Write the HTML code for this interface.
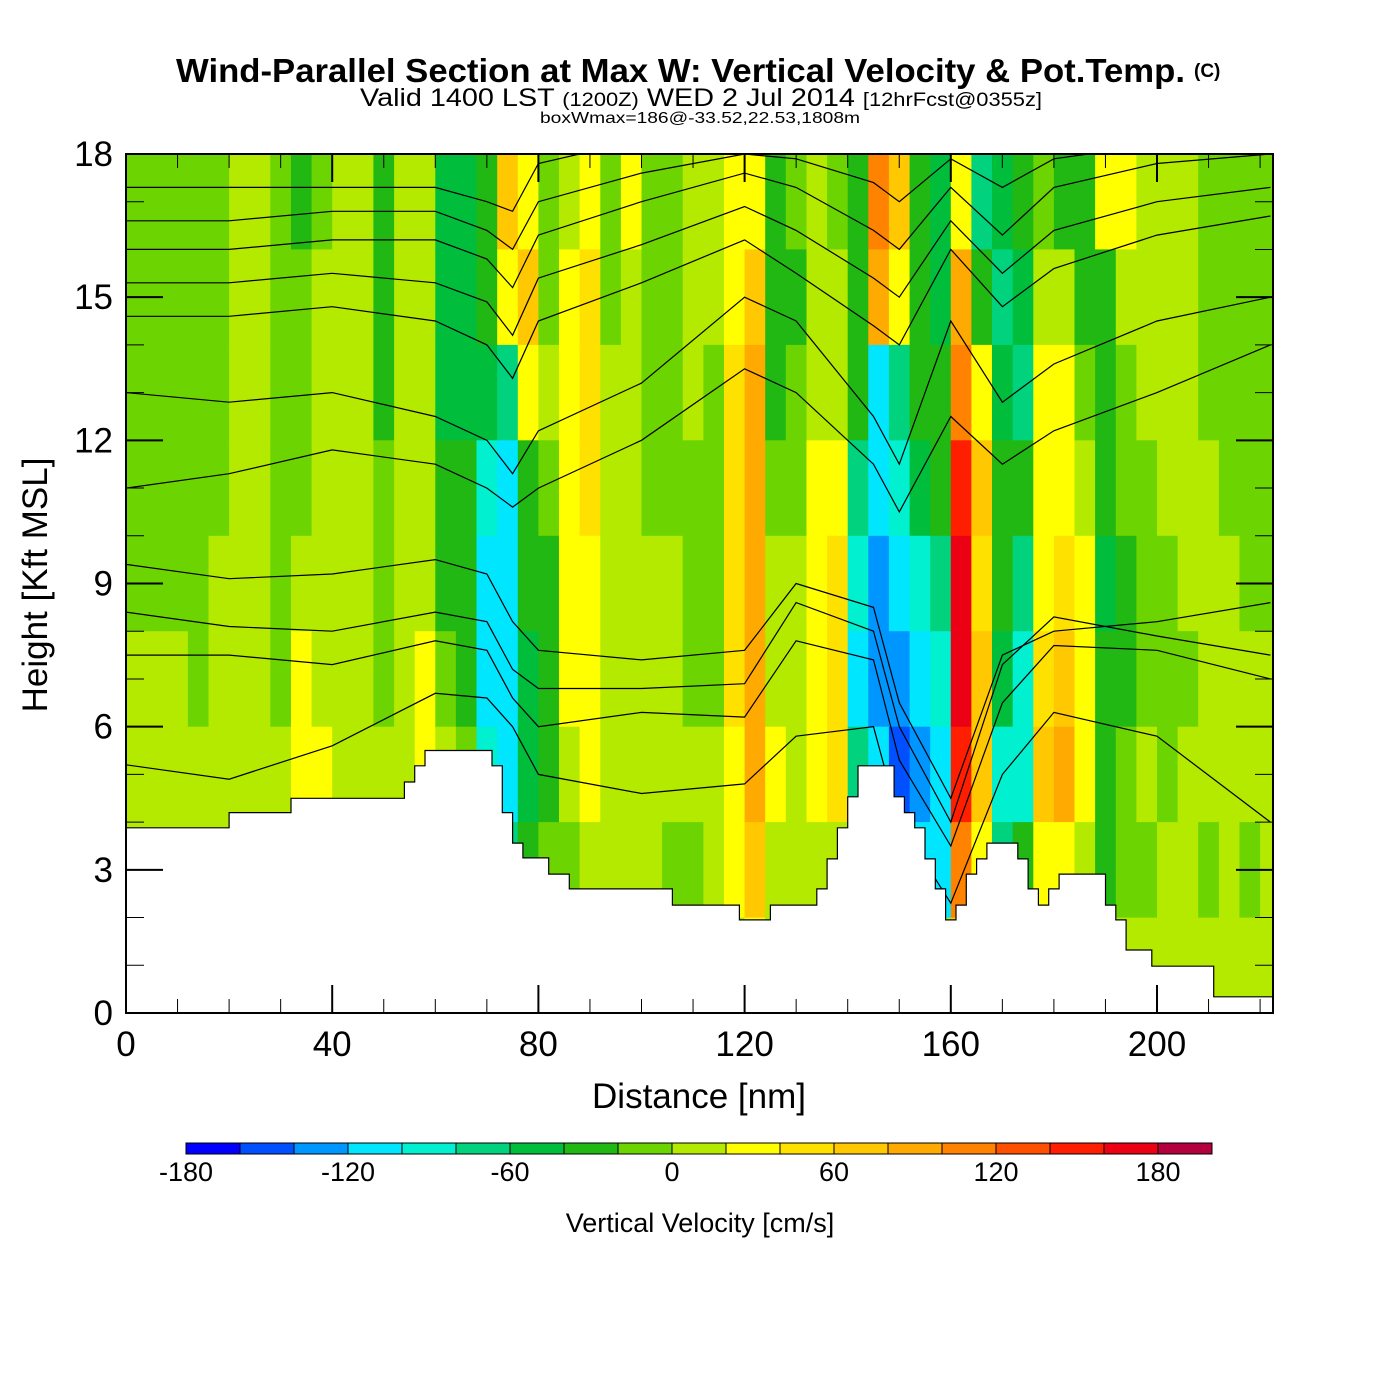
<!DOCTYPE html>
<html><head><meta charset="utf-8">
<style>
html,body{margin:0;padding:0;background:#fff;}
svg{display:block;font-family:"Liberation Sans",sans-serif;}
</style></head>
<body>
<svg id="chart" width="1400" height="1400" viewBox="0 0 1400 1400" xmlns="http://www.w3.org/2000/svg">
  <g>
    <text x="176" y="82" font-size="33" font-weight="bold" textLength="1009" lengthAdjust="spacingAndGlyphs">Wind-Parallel Section at Max W: Vertical Velocity &amp; Pot.Temp.</text>
    <text x="1194" y="77" font-size="19" font-weight="bold">(C)</text>
    <text x="360" y="106" font-size="25" textLength="682" lengthAdjust="spacingAndGlyphs">Valid 1400 LST <tspan font-size="19">(1200Z)</tspan> WED 2 Jul 2014 <tspan font-size="19">[12hrFcst@0355z]</tspan></text>
    <text x="540" y="123" font-size="16" textLength="320" lengthAdjust="spacingAndGlyphs">boxWmax=186@-33.52,22.53,1808m</text>
  </g>
  <defs><clipPath id="plotclip"><rect x="126" y="154" width="1147" height="859"/></clipPath></defs>
  <g id="cells" clip-path="url(#plotclip)"></g>
  <g id="contours" clip-path="url(#plotclip)"></g>
  <g id="terrain" clip-path="url(#plotclip)"></g>
  <g id="axes"></g>
  <g id="colorbar"></g>
  <text x="699" y="1108" font-size="35" text-anchor="middle">Distance [nm]</text>
  <text transform="translate(47,585) rotate(-90)" font-size="35" text-anchor="middle">Height [Kft MSL]</text>
  <text x="700" y="1232" font-size="27" text-anchor="middle">Vertical Velocity [cm/s]</text>
</svg>
<script>
// ---- data ----
const colWidthNm = 4;
const rowHeightsTop = [18,16,14,12,10,8,6,4,2]; // top of each 2-kft row
// vertical velocity (cm/s), one array per 4-nm column, rows top->bottom
const wByColumn = [
[-10,-10,-10,-10,-10,10,10,10,10],
[-10,-10,-10,-10,-10,10,10,10,10],
[-10,-10,-10,-10,-10,10,10,10,10],
[-10,-10,-10,-10,-10,-10,10,10,10],
[-10,-10,-10,-10,10,10,10,10,10],
[10,10,10,10,10,10,10,10,10],
[10,10,10,10,10,10,10,10,10],
[-10,-10,-10,-10,-10,-10,10,10,10],
[-30,-10,-10,-10,10,30,30,10,10],
[-10,10,10,10,10,10,30,10,10],
[10,10,10,10,10,10,10,10,10],
[10,10,10,10,10,10,10,10,10],
[-30,-30,-30,-10,-10,-10,10,10,10],
[10,10,10,10,10,10,10,10,10],
[10,10,10,10,10,30,30,10,10],
[-50,-50,-50,-30,-30,-10,10,10,10],
[-50,-50,-50,-30,-30,-30,-10,10,10],
[-30,-30,-50,-90,-110,-110,-90,10,10],
[70,30,-70,-110,-110,-110,-110,-70,10],
[30,70,30,-30,-30,-50,-50,-30,10],
[-10,-10,10,-10,-30,-30,-30,-10,10],
[10,30,30,30,30,30,10,-10,10],
[30,50,50,50,30,30,30,10,10],
[-10,-10,10,10,10,10,10,10,10],
[30,10,10,10,10,10,10,10,10],
[-10,-10,-10,-10,10,10,10,10,10],
[-10,-10,-10,-10,10,10,10,-10,10],
[10,10,10,-10,-10,-10,10,-10,10],
[10,10,-10,-10,-10,-10,10,10,10],
[30,30,50,50,50,50,30,30,10],
[30,70,90,90,90,90,90,70,30],
[-30,-30,-30,-10,10,10,30,10,10],
[-10,-30,-10,-10,10,10,10,10,10],
[10,10,10,30,30,30,30,10,10],
[-10,10,10,30,50,50,50,10,10],
[-30,-30,-30,-70,-90,-110,-70,10,10],
[110,90,-110,-110,-130,-130,-110,10,10],
[70,30,-70,-90,-110,-130,-150,-110,10],
[-30,-30,-30,-50,-90,-110,-130,-110,10],
[-50,-50,-30,-30,-70,-90,-110,-110,10],
[30,90,110,150,170,170,150,110,70],
[-70,-30,30,70,50,70,70,30,30],
[-50,-70,-50,-30,-30,-50,-90,-70,10],
[-30,-50,-70,-30,-70,-90,-90,-30,10],
[-10,10,30,30,30,50,70,30,10],
[-30,10,30,30,50,70,90,30,10],
[-30,-30,-10,10,30,30,30,10,10],
[30,-30,-30,-30,-50,-30,-30,-30,10],
[30,10,-10,-10,-30,-30,-10,-10,10],
[10,10,10,-10,-10,-10,10,-10,10],
[10,10,10,10,-10,-10,-10,10,10],
[10,10,10,10,10,-10,10,10,10],
[-10,-10,-10,10,10,10,10,-10,10],
[-10,-10,-10,-10,10,10,10,10,10],
[-10,-10,-10,-10,-10,10,10,-10,10],
[-10,-10,-10,-10,-10,10,10,10,10]
];
// terrain surface: step edges (nm) and heights (kft)
const terrainStartNm = [0,20,32,54,56,58,71,73,75,77,82,86,106,119,125,134,136,138,140,142,149,151,153,155,157,159,161,163,165,167,173,175,177,179,181,190,192,194,199,211];
const terrainHeight = [3.88,4.2,4.5,4.84,5.18,5.5,5.18,4.2,3.56,3.25,2.91,2.6,2.26,1.95,2.26,2.6,3.23,3.88,4.53,5.18,4.53,4.2,3.88,3.23,2.6,1.95,2.26,2.91,3.23,3.56,3.23,2.6,2.26,2.6,2.91,2.26,1.95,1.32,0.98,0.34];
// potential temperature contours: heights at fixed distances
const contourX = [0,20,40,60,70,75,80,100,120,130,145,150,160,170,180,200,222];
const theta38 = [17.3,17.3,17.3,17.3,17.0,16.8,17.8,18.3,18.5,18.5,18.5,18.5,18.5,18.5,18.5,18.5,18.5];
const theta37 = [16.6,16.6,16.8,16.8,16.4,16.0,17.0,17.6,18.0,17.9,17.4,17.0,17.9,17.3,17.9,18.2,18.3];
const theta36 = [16.0,16.0,16.2,16.2,15.8,15.2,16.3,17.0,17.6,17.3,16.4,16.0,17.3,16.3,17.3,17.8,18.0];
const theta35 = [15.3,15.3,15.5,15.3,14.9,14.2,15.4,16.1,16.9,16.4,15.4,15.0,16.6,15.5,16.4,17.0,17.3];
const theta34 = [14.6,14.6,14.8,14.5,14.0,13.3,14.5,15.3,16.2,15.5,14.4,14.0,16.0,14.8,15.6,16.3,16.7];
const theta33 = [13.0,12.8,13.0,12.5,12.0,11.3,12.2,13.2,15.0,14.5,12.5,11.5,14.5,12.8,13.6,14.5,15.0];
const theta32b = [11.0,11.3,11.8,11.5,11.0,10.6,11.0,12.0,13.5,13.0,11.5,10.5,12.5,11.5,12.2,13.0,14.0];
const theta32 = [9.4,9.1,9.2,9.5,9.2,8.2,7.6,7.4,7.6,9.0,8.5,6.5,4.5,7.5,8.0,8.2,8.6];
const theta30 = [8.4,8.1,8.0,8.4,8.2,7.2,6.8,6.8,6.9,8.6,8.0,6.0,4.0,7.3,8.3,7.9,7.5];
const theta29 = [7.5,7.5,7.3,7.8,7.6,6.6,6.0,6.3,6.2,7.8,7.4,5.3,3.5,6.5,7.7,7.6,7.0];
const theta28 = [5.2,4.9,5.6,6.7,6.6,6.0,5.0,4.6,4.8,5.8,6.0,4.0,2.3,5.0,6.3,5.8,4.0];
// colorbar
const binEdges = [-180,-160,-140,-120,-100,-80,-60,-40,-20,0,20,40,60,80,100,120,140,160,180,200];
const binColors = ["#0000ff","#0050ff","#0096ff","#00e6ff","#00f0d0","#00d27d","#00be3c","#22b814","#6cd400","#b4e900","#ffff00","#ffe100","#ffc800","#ffaa00","#ff8200","#ff5000","#ff1e00","#eb0014","#b4003c"];
const cbTicks = [-180,-120,-60,0,60,120,180];
const xTicks = [0,40,80,120,160,200];
const yTicks = [0,3,6,9,12,15,18];

// ---- scales ----
const X0=126, X1=1273, Y0=1013, Y1=154;
const xs = nm => X0 + nm*(1157-126)/200;
const ys = h => Y0 - h*(Y0-Y1)/18;
const NS="http://www.w3.org/2000/svg";
function mk(tag, attrs, parent){const e=document.createElementNS(NS,tag);for(const k in attrs)e.setAttribute(k,attrs[k]);parent.appendChild(e);return e;}
function colorFor(v){let i=Math.floor((v-binEdges[0])/20);i=Math.max(0,Math.min(binColors.length-1,i));return binColors[i];}

// cells
const cells=document.getElementById('cells');
wByColumn.forEach((col,c)=>{
  col.forEach((v,r)=>{
    const x=xs(c*colWidthNm), x2=xs((c+1)*colWidthNm);
    const y=ys(rowHeightsTop[r]), y2=ys(rowHeightsTop[r]-2);
    const e=mk('rect',{x:x.toFixed(1),y:y.toFixed(1),width:(x2-x+0.6).toFixed(1),height:(y2-y+0.6).toFixed(1),fill:colorFor(v)},cells);
    
    
  });
});

// contours
const cg=document.getElementById('contours');
[theta38,theta37,theta36,theta35,theta34,theta33,theta32b,theta32,theta30,theta29,theta28].forEach(arr=>{
  const pts=arr.map((h,i)=>xs(contourX[i]).toFixed(1)+','+ys(h).toFixed(1)).join(' ');
  const e=mk('polyline',{points:pts,fill:'none',stroke:'#000','stroke-width':1.2},cg);
  
  
});

// terrain
const tg=document.getElementById('terrain');
let d='M'+xs(0)+','+ys(0);
terrainStartNm.forEach((s,i)=>{
  const e=(i+1<terrainStartNm.length)?terrainStartNm[i+1]:223;
  d+=' L'+xs(s).toFixed(1)+','+ys(terrainHeight[i]).toFixed(1)+' L'+xs(e).toFixed(1)+','+ys(terrainHeight[i]).toFixed(1);
});
d+=' L'+xs(223)+','+ys(0)+' Z';
const tp=mk('path',{d:d,fill:'#fff',stroke:'#000','stroke-width':1.2},tg);



// axes
const ag=document.getElementById('axes');
const fr=mk('rect',{x:X0,y:Y1,width:X1-X0,height:Y0-Y1,fill:'none',stroke:'#000','stroke-width':2},ag);


for(let h=0;h<=18;h++){
  const L=(h%3===0)?37:18, y=ys(h);
  mk('line',{x1:X0,y1:y,x2:X0+L,y2:y,stroke:'#000','stroke-width':h%3===0?2:1},ag);
  mk('line',{x1:X1,y1:y,x2:X1-L,y2:y,stroke:'#000','stroke-width':h%3===0?2:1},ag);
}
for(let n=0;n<=220;n+=10){
  const L=(n%40===0)?28:14, x=xs(n);
  mk('line',{x1:x,y1:Y0,x2:x,y2:Y0-L,stroke:'#000','stroke-width':n%40===0?2:1},ag);
  mk('line',{x1:x,y1:Y1,x2:x,y2:Y1+L,stroke:'#000','stroke-width':n%40===0?2:1},ag);
}
yTicks.forEach(t=>{
  const e=mk('text',{x:113,y:ys(t)+12,'font-size':35,'text-anchor':'end'},ag);
  e.textContent=t;
  
  
});
xTicks.forEach(t=>{
  const e=mk('text',{x:xs(t),y:1056,'font-size':35,'text-anchor':'middle'},ag);
  e.textContent=t;
  
  
});

// colorbar
const cb=document.getElementById('colorbar');
const cbx = v => 186 + (v+180)*54/20;
binColors.forEach((c,i)=>{
  const e=mk('rect',{x:cbx(binEdges[i]),y:1143,width:54,height:11,fill:c,stroke:'#000','stroke-width':1},cb);
  
  
});
cbTicks.forEach(t=>{
  const e=mk('text',{x:cbx(t),y:1181,'font-size':27,'text-anchor':'middle'},cb);
  e.textContent=t;
  
  
});
</script>
</body></html>
